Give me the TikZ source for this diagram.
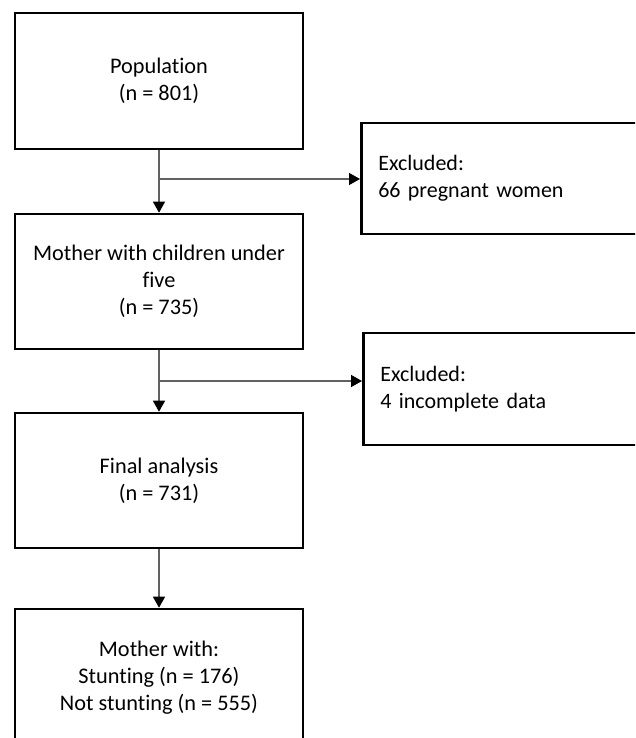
\documentclass[tikz,border=0pt]{standalone}
\usepackage{fontspec}
\setmainfont{Carlito}[Ligatures=NoCommon]
\usetikzlibrary{arrows.meta}
\begin{document}
\begin{tikzpicture}[x=1pt,y=-1pt,
  box/.style={draw=black, line width=2.6pt, minimum width=288pt, inner sep=0pt, align=center, font=\fontsize{22.3}{27}\selectfont},
  exbox/.style={draw=black, line width=2.6pt, inner ysep=0pt, inner xsep=17pt, text width=266pt, align=left, anchor=west, font=\fontsize{22}{26.5}\selectfont},
  conn/.style={draw=black!62, line width=1.4pt, -{Triangle[length=11pt,width=12pt,black]}}]
\useasboundingbox (0,0) rectangle (635,738);
\clip (0,0) rectangle (635,738);
\node[box, minimum height=136pt] (pop) at (159,81) {Population\\(n = 801)};
\node[box, minimum height=135pt] (mother) at (159,281.5) {Mother with children under\\five\\(n = 735)};
\node[box, minimum height=135pt] (final) at (159,480.5) {Final analysis\\(n = 731)};
\node[box, minimum height=138pt] (result) at (159,678) {Mother with:\\Stunting (n = 176)\\Not stunting (n = 555)};
\node[exbox, minimum height=111pt] (ex1) at (360,178.5) {Excluded:\\66 pregnant women};
\node[exbox, minimum height=112pt] (ex2) at (362,389) {Excluded:\\4 incomplete data};
\coordinate (b1) at (159,179);
\coordinate (b2) at (159,381);
\draw[conn] (pop.south) -- (mother.north);
\draw[conn] (b1) -- (b1 -| ex1.west);
\draw[conn] (mother.south) -- (final.north);
\draw[conn] (b2) -- (b2 -| ex2.west);
\draw[conn] (final.south) -- (result.north);
\end{tikzpicture}
\end{document}
